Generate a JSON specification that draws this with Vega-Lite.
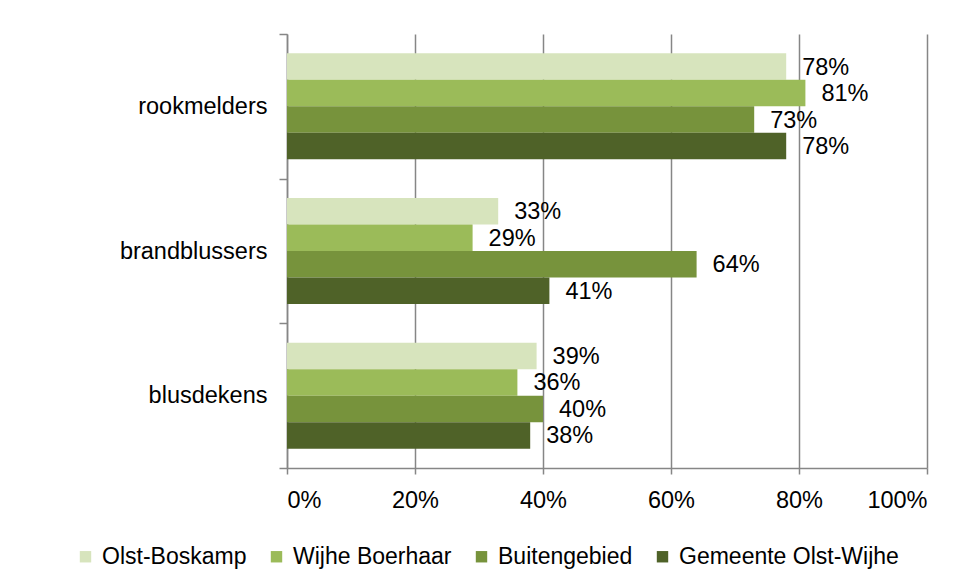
{
  "$schema": "https://vega.github.io/schema/vega-lite/v6.json",
  "autosize": "none",
  "width": 640,
  "height": 434,
  "padding": {"left": 287, "top": 34, "right": 38, "bottom": 119},
  "background": "white",
  "config": {
    "font": "Liberation Sans",
    "view": {"stroke": null},
    "axis": {"labelFont": "Liberation Sans", "labelFontSize": 23.5, "labelColor": "black", "domainColor": "#868686", "tickColor": "#868686", "domainWidth": 1.5, "tickWidth": 1.5, "title": null},
    "legend": {"labelFont": "Liberation Sans", "labelFontSize": 23, "labelColor": "black", "labelLimit": 400}
  },
  "data": {
    "values": [
      {"item": "rookmelders", "area": "Olst-Boskamp", "pct": 0.78},
      {"item": "rookmelders", "area": "Wijhe Boerhaar", "pct": 0.81},
      {"item": "rookmelders", "area": "Buitengebied", "pct": 0.73},
      {"item": "rookmelders", "area": "Gemeente Olst-Wijhe", "pct": 0.78},
      {"item": "brandblussers", "area": "Olst-Boskamp", "pct": 0.33},
      {"item": "brandblussers", "area": "Wijhe Boerhaar", "pct": 0.29},
      {"item": "brandblussers", "area": "Buitengebied", "pct": 0.64},
      {"item": "brandblussers", "area": "Gemeente Olst-Wijhe", "pct": 0.41},
      {"item": "blusdekens", "area": "Olst-Boskamp", "pct": 0.39},
      {"item": "blusdekens", "area": "Wijhe Boerhaar", "pct": 0.36},
      {"item": "blusdekens", "area": "Buitengebied", "pct": 0.40},
      {"item": "blusdekens", "area": "Gemeente Olst-Wijhe", "pct": 0.38}
    ]
  },
  "encoding": {
    "y": {
      "field": "item", "type": "nominal",
      "sort": ["rookmelders", "brandblussers", "blusdekens"],
      "scale": {"paddingInner": 0, "paddingOuter": 0},
      "axis": {"tickBand": "extent", "tickSize": 8, "labelPadding": 12, "grid": false}
    },
    "yOffset": {
      "field": "area", "type": "nominal",
      "sort": ["Olst-Boskamp", "Wijhe Boerhaar", "Buitengebied", "Gemeente Olst-Wijhe"],
      "scale": {"paddingInner": 0, "paddingOuter": 0.73}
    }
  },
  "layer": [
    {
      "mark": {"type": "bar", "cornerRadius": 0},
      "encoding": {
        "x": {
          "field": "pct", "type": "quantitative",
          "scale": {"domain": [0, 1], "nice": false},
          "axis": {"format": ".0%", "values": [0, 0.2, 0.4, 0.6, 0.8, 1], "grid": true, "gridColor": "#868686", "gridWidth": 1.5, "tickSize": 6, "labelPadding": 14}
        },
        "color": {
          "field": "area", "type": "nominal",
          "sort": ["Olst-Boskamp", "Wijhe Boerhaar", "Buitengebied", "Gemeente Olst-Wijhe"],
          "scale": {"range": ["#D7E4BD", "#9BBB59", "#77933C", "#4F6228"]},
          "legend": {"title": null, "orient": "none", "direction": "horizontal", "legendX": -213, "legendY": 511, "symbolType": "square", "symbolSize": 130, "symbolStrokeWidth": 0, "labelOffset": 5, "columnPadding": 18}
        }
      }
    },
    {
      "mark": {"type": "text", "align": "left", "baseline": "middle", "dx": 16, "dy": 1, "fontSize": 23.5, "color": "black"},
      "encoding": {
        "x": {"field": "pct", "type": "quantitative"},
        "text": {"field": "pct", "type": "quantitative", "format": ".0%"}
      }
    }
  ]
}
